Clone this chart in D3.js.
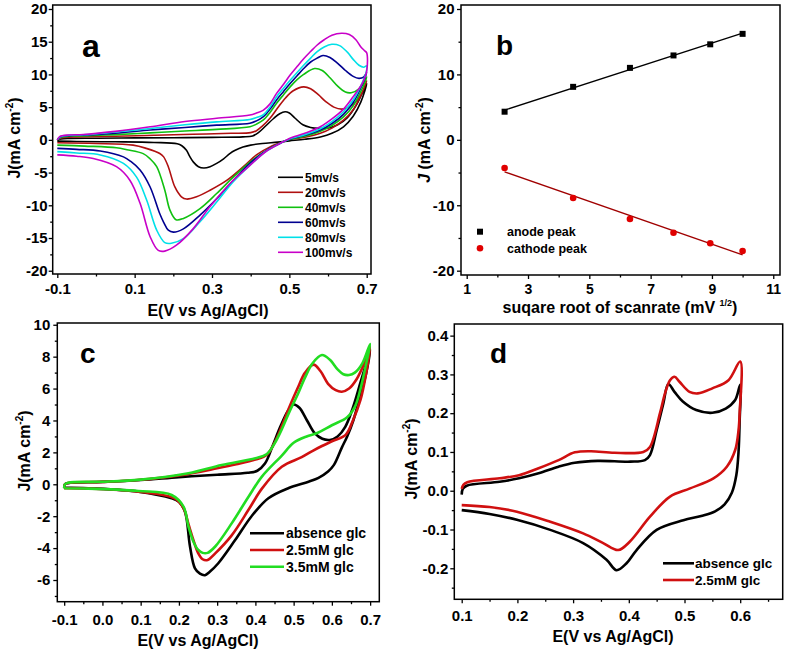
<!DOCTYPE html>
<html><head><meta charset="utf-8">
<script src="https://cdn.jsdelivr.net/npm/d3@7"></script>
<style>body{margin:0;background:#fff}svg{display:block}text{font-family:"Liberation Sans",Arial,sans-serif;font-weight:bold}</style>
</head><body><svg id="c" width="787" height="650"></svg>
<script>
// ---------------- DATA ----------------
// Panel a: CV at different scan rates, points [E (V), J (mA cm-2)], forward scan then reverse scan
const aNames = ["5mv/s","20mv/s","40mv/s","60mv/s","80mv/s","100mv/s"];
const a5 = [[-0.1,0.0],[-0.09,0.15],[-0.07,0.22],[0.0,0.25],[0.1,0.3],[0.2,0.33],[0.3,0.38],[0.38,0.45],[0.405,0.6],[0.42,1.1],[0.44,2.2],[0.46,3.3],[0.475,4.0],[0.489,4.3],[0.5,4.1],[0.515,3.3],[0.535,2.3],[0.555,1.9],[0.575,1.75],[0.6,1.8],[0.625,2.3],[0.65,3.4],[0.675,5.5],[0.7,8.6],
  [0.685,5.8],[0.665,3.6],[0.64,2.0],[0.61,1.0],[0.58,0.45],[0.54,0.1],[0.5,-0.15],[0.47,-0.35],[0.43,-0.55],[0.4,-0.8],[0.38,-1.1],[0.36,-1.6],[0.346,-2.1],[0.33,-2.9],[0.312,-3.6],[0.295,-4.1],[0.279,-4.3],[0.265,-4.1],[0.252,-3.4],[0.242,-2.5],[0.234,-1.6],[0.222,-0.9],[0.21,-0.6],[0.15,-0.4],[0.05,-0.3],[-0.05,-0.25],[-0.1,-0.2]];
const a20 = [[-0.1,0.0],[-0.09,0.3],[-0.07,0.42],[-0.05,0.45],[0.05,0.55],[0.15,0.7],[0.25,0.85],[0.35,1.0],[0.4,1.1],[0.415,1.4],[0.43,2.1],[0.45,3.3],[0.47,4.9],[0.49,6.4],[0.51,7.5],[0.537,8.1],[0.555,7.8],[0.575,6.9],[0.595,5.8],[0.615,5.0],[0.635,4.7],[0.655,5.0],[0.675,6.0],[0.69,7.5],[0.7,9.0],
  [0.685,6.8],[0.665,4.6],[0.64,3.0],[0.61,1.8],[0.58,1.0],[0.54,0.4],[0.5,0.05],[0.484,-0.3],[0.45,-1.07],[0.415,-2.3],[0.381,-4.1],[0.338,-6.2],[0.295,-7.7],[0.26,-8.7],[0.234,-9.05],[0.221,-8.7],[0.204,-7.2],[0.187,-4.1],[0.175,-2.6],[0.165,-2.08],[0.13,-1.3],[0.096,-0.81],[0.0,-0.55],[-0.1,-0.45]];
const a40 = [[-0.1,0.0],[-0.09,0.4],[-0.07,0.55],[-0.033,0.6],[0.05,0.8],[0.14,1.07],[0.23,1.35],[0.312,1.6],[0.398,2.0],[0.415,2.4],[0.432,3.0],[0.45,4.2],[0.467,5.6],[0.485,6.9],[0.502,8.1],[0.52,9.2],[0.537,10.0],[0.565,10.9],[0.585,10.6],[0.605,9.5],[0.625,8.2],[0.645,7.3],[0.66,7.2],[0.68,7.8],[0.7,9.6],
  [0.685,7.4],[0.665,5.2],[0.64,3.5],[0.61,2.2],[0.58,1.3],[0.54,0.55],[0.5,0.05],[0.484,-0.3],[0.441,-1.6],[0.398,-3.4],[0.355,-5.7],[0.312,-8.2],[0.269,-10.5],[0.226,-12.0],[0.207,-12.2],[0.191,-10.7],[0.178,-7.7],[0.157,-4.1],[0.14,-2.9],[0.122,-2.1],[0.08,-1.5],[0.053,-1.2],[-0.03,-0.95],[-0.1,-0.8]];
const a60 = [[-0.1,0.0],[-0.092,0.45],[-0.07,0.65],[-0.033,0.72],[0.05,1.0],[0.14,1.5],[0.23,1.9],[0.312,2.25],[0.398,2.55],[0.415,2.9],[0.432,3.5],[0.45,4.7],[0.467,6.1],[0.485,7.4],[0.502,8.6],[0.52,9.8],[0.537,10.9],[0.555,11.9],[0.572,12.5],[0.587,12.9],[0.605,12.6],[0.625,11.7],[0.645,10.6],[0.665,9.7],[0.68,9.4],[0.692,9.6],[0.7,10.3],
  [0.685,8.0],[0.665,5.7],[0.64,3.9],[0.61,2.5],[0.58,1.5],[0.54,0.7],[0.5,0.1],[0.484,-0.3],[0.441,-1.6],[0.398,-3.6],[0.355,-6.2],[0.312,-9.0],[0.269,-11.5],[0.226,-13.6],[0.2,-14.1],[0.187,-13.8],[0.175,-12.6],[0.165,-11.3],[0.14,-7.2],[0.114,-4.6],[0.09,-3.3],[0.071,-2.6],[0.011,-1.7],[-0.05,-1.45],[-0.1,-1.3]];
const a80 = [[-0.1,0.0],[-0.093,0.45],[-0.07,0.7],[-0.033,0.77],[0.05,1.2],[0.14,1.73],[0.23,2.3],[0.312,2.75],[0.398,3.1],[0.415,3.4],[0.432,3.8],[0.45,5.0],[0.467,6.6],[0.485,7.9],[0.502,9.1],[0.52,10.3],[0.537,11.4],[0.555,12.5],[0.572,13.5],[0.59,14.2],[0.61,14.6],[0.63,14.4],[0.65,13.4],[0.665,12.3],[0.68,11.4],[0.692,11.1],[0.7,11.3],
  [0.697,10.0],[0.685,8.3],[0.665,6.1],[0.64,4.3],[0.61,2.8],[0.58,1.7],[0.54,0.8],[0.5,0.15],[0.484,-0.3],[0.441,-1.7],[0.398,-3.9],[0.355,-6.4],[0.312,-9.5],[0.269,-12.5],[0.226,-15.1],[0.195,-15.8],[0.178,-15.7],[0.157,-13.8],[0.131,-9.2],[0.105,-5.7],[0.071,-3.6],[0.011,-2.3],[-0.05,-2.0],[-0.1,-1.8]];
const a100 = [[-0.1,0.0],[-0.094,0.5],[-0.07,0.75],[-0.033,0.82],[0.05,1.3],[0.14,2.0],[0.23,2.8],[0.312,3.3],[0.398,3.8],[0.415,4.1],[0.432,4.5],[0.45,5.5],[0.467,7.1],[0.485,8.5],[0.502,9.9],[0.52,11.2],[0.537,12.4],[0.555,13.5],[0.572,14.5],[0.59,15.3],[0.61,16.0],[0.635,16.3],[0.655,16.1],[0.672,15.3],[0.685,14.2],[0.695,13.6],[0.7,13.3],
  [0.7,10.5],[0.69,8.8],[0.665,6.6],[0.64,4.7],[0.61,3.2],[0.58,2.0],[0.54,1.0],[0.5,0.2],[0.484,-0.3],[0.441,-1.7],[0.398,-3.9],[0.346,-6.7],[0.295,-10.2],[0.251,-13.6],[0.208,-16.1],[0.178,-17.0],[0.161,-16.9],[0.14,-14.8],[0.114,-9.7],[0.088,-6.2],[0.053,-4.1],[-0.007,-2.85],[-0.05,-2.5],[-0.1,-2.3]];

// Panel b: peak current vs square root of scan rate
const bRate = [2.236, 4.472, 6.325, 7.746, 8.944, 10];
const bAnode = [4.3, 8.1, 11.0, 12.9, 14.6, 16.2];
const bCathode = [-4.3, -8.9, -12.1, -14.2, -15.8, -17.0];
const bNames = ["anode peak","cathode peak"];

// Panel c: CV with glucose
const cNames = ["absence glc","2.5mM glc","3.5mM glc"];
const c0 = [[-0.1,-0.2],[-0.098,0.0],[-0.09,0.07],[0.0,0.15],[0.1,0.27],[0.2,0.45],[0.3,0.6],[0.38,0.72],[0.405,0.85],[0.425,1.3],[0.445,2.4],[0.465,3.6],[0.485,4.6],[0.5,5.0],[0.515,4.8],[0.535,4.0],[0.555,3.2],[0.575,2.85],[0.595,2.78],[0.615,3.0],[0.635,3.6],[0.655,4.8],[0.675,6.4],[0.69,7.6],[0.7,8.5],
  [0.69,7.0],[0.675,5.6],[0.656,4.0],[0.64,3.0],[0.626,2.3],[0.605,1.2],[0.59,0.8],[0.565,0.4],[0.539,0.16],[0.486,-0.25],[0.434,-0.88],[0.39,-2.0],[0.347,-3.5],[0.303,-4.95],[0.28,-5.5],[0.268,-5.7],[0.255,-5.6],[0.242,-5.27],[0.229,-3.9],[0.216,-1.72],[0.2,-1.1],[0.181,-0.88],[0.094,-0.46],[-0.037,-0.25],[-0.1,-0.2]];
const c25 = [[-0.1,-0.25],[-0.098,0.0],[-0.09,0.08],[0.0,0.15],[0.1,0.28],[0.2,0.55],[0.3,1.0],[0.35,1.25],[0.4,1.55],[0.43,1.85],[0.45,2.6],[0.47,3.7],[0.49,4.9],[0.51,6.0],[0.53,7.0],[0.552,7.5],[0.57,7.1],[0.59,6.3],[0.61,5.9],[0.626,5.8],[0.645,6.0],[0.665,6.6],[0.685,7.6],[0.7,8.6],
  [0.69,7.0],[0.675,5.3],[0.655,4.0],[0.636,3.1],[0.6,2.7],[0.574,2.4],[0.55,2.1],[0.521,1.7],[0.469,1.1],[0.417,-0.27],[0.382,-1.6],[0.338,-3.2],[0.295,-4.33],[0.275,-4.75],[0.262,-4.7],[0.25,-4.3],[0.238,-3.5],[0.225,-2.5],[0.212,-1.5],[0.19,-0.9],[0.094,-0.46],[-0.037,-0.27],[-0.1,-0.25]];
const c35 = [[-0.1,-0.25],[-0.098,0.0],[-0.09,0.1],[0.0,0.16],[0.1,0.29],[0.225,0.69],[0.312,1.21],[0.4,1.63],[0.43,1.9],[0.45,2.55],[0.47,3.5],[0.49,4.6],[0.51,5.6],[0.53,6.7],[0.55,7.6],[0.574,8.1],[0.595,7.8],[0.615,7.2],[0.63,6.9],[0.645,6.85],[0.66,7.0],[0.68,7.6],[0.7,8.8],
  [0.69,7.6],[0.675,6.0],[0.661,4.9],[0.64,4.2],[0.6,3.7],[0.56,3.2],[0.534,3.0],[0.5,2.6],[0.469,1.8],[0.417,0.48],[0.382,-0.78],[0.338,-2.45],[0.295,-3.9],[0.275,-4.3],[0.262,-4.3],[0.25,-4.1],[0.238,-3.6],[0.225,-2.66],[0.212,-1.4],[0.181,-0.67],[0.094,-0.42],[-0.037,-0.27],[-0.1,-0.25]];

// Panel d
const dNames = ["absence glc","2.5mM glc"];
const d0 = [[0.1,-0.01],[0.102,0.005],[0.109,0.013],[0.168,0.023],[0.203,0.032],[0.238,0.045],[0.274,0.062],[0.303,0.072],[0.344,0.077],[0.403,0.075],[0.429,0.079],[0.438,0.092],[0.45,0.156],[0.462,0.225],[0.471,0.275],[0.482,0.255],[0.497,0.23],[0.521,0.208],[0.55,0.201],[0.574,0.212],[0.591,0.234],[0.6,0.273],
  [0.599,0.18],[0.597,0.1],[0.593,0.04],[0.585,-0.005],[0.572,-0.035],[0.555,-0.053],[0.53,-0.065],[0.498,-0.076],[0.45,-0.101],[0.414,-0.153],[0.396,-0.187],[0.378,-0.205],[0.36,-0.178],[0.318,-0.135],[0.259,-0.101],[0.199,-0.075],[0.15,-0.06],[0.1,-0.05]];
const d25 = [[0.1,0.005],[0.103,0.015],[0.11,0.022],[0.168,0.032],[0.203,0.04],[0.238,0.058],[0.274,0.079],[0.303,0.099],[0.332,0.102],[0.374,0.098],[0.426,0.1],[0.438,0.113],[0.456,0.2],[0.465,0.251],[0.474,0.285],[0.482,0.294],[0.491,0.281],[0.509,0.255],[0.524,0.251],[0.55,0.264],[0.579,0.285],[0.6,0.333],
  [0.599,0.2],[0.597,0.156],[0.591,0.105],[0.576,0.062],[0.552,0.032],[0.51,0.006],[0.474,-0.015],[0.438,-0.067],[0.402,-0.131],[0.381,-0.153],[0.354,-0.135],[0.318,-0.11],[0.259,-0.08],[0.199,-0.054],[0.15,-0.042],[0.1,-0.037]];

// Ticks
const aXTicks = [-0.1,0.1,0.3,0.5,0.7], aXMinor = [0,0.2,0.4,0.6];
const aYTicks = [-20,-15,-10,-5,0,5,10,15,20], aYMinor = [-17.5,-12.5,-7.5,-2.5,2.5,7.5,12.5,17.5];
const bXTicks = [1,3,5,7,9,11], bXMinor = [2,4,6,8,10];
const bYTicks = [-20,-10,0,10,20], bYMinor = [-15,-5,5,15];
const cXTicks = [-0.1,0,0.1,0.2,0.3,0.4,0.5,0.6,0.7], cXMinor = [-0.05,0.05,0.15,0.25,0.35,0.45,0.55,0.65];
const cYTicks = [-6,-4,-2,0,2,4,6,8,10], cYMinor = [-7,-5,-3,-1,1,3,5,7,9];
const dXTicks = [0.1,0.2,0.3,0.4,0.5,0.6], dXMinor = [0.15,0.25,0.35,0.45,0.55,0.65];
const dYTicks = [-0.2,-0.1,0,0.1,0.2,0.3,0.4], dYMinor = [-0.25,-0.15,-0.05,0.05,0.15,0.25,0.35];

// ---------------- DRAW ----------------
const svg = d3.select("#c");
const FONT = '"Liberation Sans", Arial, sans-serif';

function panel(cfg){
  const g = svg.append("g");
  const x = d3.scaleLinear().domain(cfg.xd).range([cfg.l, cfg.r]);
  const y = d3.scaleLinear().domain(cfg.yd).range([cfg.b, cfg.t]);
  const styleAxis = fs => sel => {
    sel.attr("font-family", FONT).attr("font-size", fs).attr("font-weight","bold");
    sel.select(".domain").remove();
    sel.selectAll(".tick line").attr("stroke","#000").attr("stroke-width",1.3);
    sel.selectAll(".tick text").attr("fill","#000");
  };
  g.append("g").attr("transform",`translate(0,${cfg.b})`)
    .call(d3.axisBottom(x).tickValues(cfg.xt).tickFormat(cfg.xf).tickSize(4).tickPadding(cfg.xpad)).call(styleAxis(cfg.xfs || cfg.fs));
  g.append("g").attr("transform",`translate(0,${cfg.b})`)
    .call(d3.axisBottom(x).tickValues(cfg.xm).tickFormat("").tickSize(2.5)).call(styleAxis(cfg.fs));
  g.append("g").attr("transform",`translate(${cfg.l},0)`)
    .call(d3.axisLeft(y).tickValues(cfg.yt).tickFormat(cfg.yf).tickSize(4).tickPadding(cfg.ypad)).call(styleAxis(cfg.fs));
  g.append("g").attr("transform",`translate(${cfg.l},0)`)
    .call(d3.axisLeft(y).tickValues(cfg.ym).tickFormat("").tickSize(2.5)).call(styleAxis(cfg.fs));
  g.append("rect").attr("x",cfg.l).attr("y",cfg.t).attr("width",cfg.r-cfg.l).attr("height",cfg.b-cfg.t)
    .attr("fill","none").attr("stroke","#000").attr("stroke-width",1.5);
  return {g,x,y};
}

function yTitle(g, cx, cy, italicJ, space){
  const t = g.append("text").attr("transform",`translate(${cx},${cy}) rotate(-90)`)
    .attr("text-anchor","middle").attr("font-size",16).attr("fill","#000");
  t.append("tspan").attr("font-style", italicJ ? "italic" : "normal").text("J");
  t.append("tspan").text(space ? " (mA cm" : "(mA cm");
  t.append("tspan").attr("font-size",10).attr("dy",-7).text("-2");
  t.append("tspan").attr("dy",7).text(")");
}
function xTitle(g, cx, by, txt){
  g.append("text").attr("x",cx).attr("y",by).attr("text-anchor","middle").attr("font-size",16).text(txt);
}
function letter(g, x0, by, s, fs){
  g.append("text").attr("x",x0).attr("y",by).attr("font-size",fs).text(s);
}
const f1 = d => d.toFixed(1);
const fi = d => String(d);
const line = (x,y) => d3.line().x(d=>x(d[0])).y(d=>y(d[1])).curve(d3.curveCatmullRom.alpha(0.5));

// ---- Panel a
{
  const P = panel({l:52.7,r:371,t:5,b:274,xd:[-0.1119,0.7111],yd:[-20.5,20.61],
    xt:aXTicks,xm:aXMinor,yt:aYTicks,ym:aYMinor,xf:f1,yf:fi,fs:15,xpad:5.5,ypad:1});
  const series = [a5,a20,a40,a60,a80,a100];
  const cols = ["#000000","#b01010","#10c010","#000090","#00e0e8","#c800c8"];
  const L = line(P.x,P.y);
  series.forEach((s,i)=>P.g.append("path").attr("d",L(s)).attr("fill","none").attr("stroke",cols[i]).attr("stroke-width",1.6));
  aNames.forEach((n,i)=>{
    const yy = 177.3 + i*15;
    P.g.append("line").attr("x1",278).attr("x2",303).attr("y1",yy).attr("y2",yy).attr("stroke",cols[i]).attr("stroke-width",1.6);
    P.g.append("text").attr("x",305).attr("y",yy).attr("dy","0.35em").attr("font-size",12).text(n);
  });
  letter(P.g, 82, 57, "a", 32);
  xTitle(P.g, 208, 316, "E(V vs Ag/AgCl)");
  yTitle(P.g, 20, 138, false, false);
}

// ---- Panel b
{
  const P = panel({l:461,r:780,t:5,b:275,xd:[0.814,11.22],yd:[-20.66,20.61],
    xt:bXTicks,xm:bXMinor,yt:bYTicks,ym:bYMinor,xf:fi,yf:fi,fs:15,xfs:14,xpad:5,ypad:2.5});
  const fit = ys => {
    const mx = d3.mean(bRate), my = d3.mean(ys);
    const sxy = d3.sum(bRate,(v,i)=>(v-mx)*(ys[i]-my)), sxx = d3.sum(bRate,v=>(v-mx)*(v-mx));
    const k = sxy/sxx, c = my - k*mx;
    const e = d3.extent(bRate);
    return [[e[0],k*e[0]+c],[e[1],k*e[1]+c]];
  };
  const L = d3.line().x(d=>P.x(d[0])).y(d=>P.y(d[1]));
  P.g.append("path").attr("d",L(fit(bAnode))).attr("stroke","#000").attr("stroke-width",1.3).attr("fill","none");
  P.g.append("path").attr("d",L(fit(bCathode))).attr("stroke","#a00000").attr("stroke-width",1.3).attr("fill","none");
  P.g.selectAll(".sq").data(bRate).enter().append("rect")
    .attr("x",(d)=>P.x(d)-3).attr("y",(d,i)=>P.y(bAnode[i])-3).attr("width",6).attr("height",6).attr("fill","#000");
  P.g.selectAll(".ci").data(bRate).enter().append("circle")
    .attr("cx",d=>P.x(d)).attr("cy",(d,i)=>P.y(bCathode[i])).attr("r",3.3).attr("fill","#e00000");
  P.g.append("rect").attr("x",477).attr("y",228.7).attr("width",6).attr("height",6).attr("fill","#000");
  P.g.append("circle").attr("cx",480).attr("cy",248.3).attr("r",3.3).attr("fill","#e00000");
  P.g.append("text").attr("x",507).attr("y",231.7).attr("dy","0.35em").attr("font-size",12.5).text(bNames[0]);
  P.g.append("text").attr("x",507).attr("y",248.3).attr("dy","0.35em").attr("font-size",12.5).text(bNames[1]);
  letter(P.g, 496, 55, "b", 28);
  const t = P.g.append("text").attr("x",620).attr("y",313).attr("text-anchor","middle").attr("font-size",16);
  t.append("tspan").text("suqare root of scanrate (mV ");
  t.append("tspan").attr("font-size",9).attr("dy",-7).text("1/2");
  t.append("tspan").attr("dy",7).text(")");
  yTitle(P.g, 430, 140, true, true);
}

// ---- Panel c
{
  const P = panel({l:57.3,r:379.3,t:323,b:601.7,xd:[-0.118,0.724],yd:[-7.36,10.11],
    xt:cXTicks,xm:cXMinor,yt:cYTicks,ym:cYMinor,xf:f1,yf:fi,fs:15,xpad:9,ypad:3});
  const series = [c0,c25,c35];
  const cols = ["#000000","#d01010","#22dd22"];
  const L = line(P.x,P.y);
  series.forEach((s,i)=>P.g.append("path").attr("d",L(s)).attr("fill","none").attr("stroke",cols[i]).attr("stroke-width",2.6));
  cNames.forEach((n,i)=>{
    const yy = 533.3 + i*16.7;
    P.g.append("line").attr("x1",250).attr("x2",284).attr("y1",yy).attr("y2",yy).attr("stroke",cols[i]).attr("stroke-width",2.6);
    P.g.append("text").attr("x",286).attr("y",yy).attr("dy","0.35em").attr("font-size",14).text(n);
  });
  letter(P.g, 80, 363, "c", 28);
  xTitle(P.g, 198, 646, "E(V vs Ag/AgCl)");
  yTitle(P.g, 30, 451, false, false);
}

// ---- Panel d
{
  const P = panel({l:454.3,r:782.7,t:324,b:599.3,xd:[0.0867,0.6763],yd:[-0.28,0.43],
    xt:dXTicks,xm:dXMinor,yt:dYTicks,ym:dYMinor,xf:f1,yf:f1,fs:15,xpad:7.5,ypad:2});
  const series = [d0,d25];
  const cols = ["#000000","#d01010"];
  const L = line(P.x,P.y);
  series.forEach((s,i)=>P.g.append("path").attr("d",L(s)).attr("fill","none").attr("stroke",cols[i]).attr("stroke-width",2.6));
  dNames.forEach((n,i)=>{
    const yy = 563.3 + i*16.7;
    P.g.append("line").attr("x1",663).attr("x2",694).attr("y1",yy).attr("y2",yy).attr("stroke",cols[i]).attr("stroke-width",2.6);
    P.g.append("text").attr("x",695).attr("y",yy).attr("dy","0.35em").attr("font-size",13.5).text(n);
  });
  letter(P.g, 490, 363, "d", 28);
  xTitle(P.g, 613, 642, "E(V vs Ag/AgCl)");
  yTitle(P.g, 417, 459, false, false);
}
</script>
</body></html>
